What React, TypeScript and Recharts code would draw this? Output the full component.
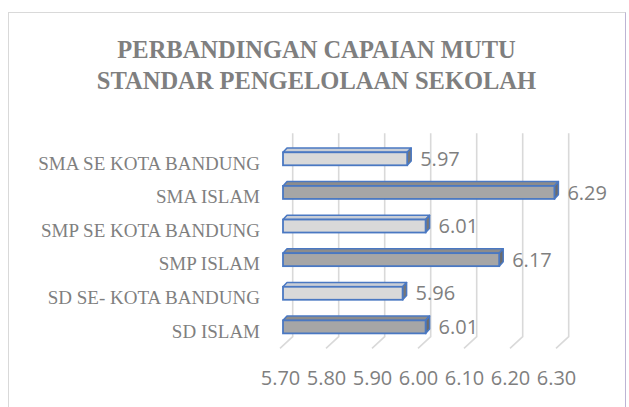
import React from "react";
import {
  BarChart,
  Bar,
  XAxis,
  YAxis,
  CartesianGrid,
  Cell,
  LabelList,
} from "recharts";

const categories = [
  "SMA SE KOTA BANDUNG",
  "SMA ISLAM",
  "SMP SE KOTA BANDUNG",
  "SMP ISLAM",
  "SD SE- KOTA BANDUNG",
  "SD ISLAM",
];
const values = [5.97, 6.29, 6.01, 6.17, 5.96, 6.01];
const xTicks = [5.7, 5.8, 5.9, 6.0, 6.1, 6.2, 6.3];
const titleLines = [
  "PERBANDINGAN CAPAIAN MUTU",
  "STANDAR PENGELOLAAN SEKOLAH",
];

const data = categories.map((name, i) => ({ name, value: values[i] }));

const TEXT = "#7f7f7f";
const BLUE = "#4a78c2";
const DX = 4;
const DY = 4.3;

// 3d-ish bar: front face + top bevel + right side
function Bar3D(props: any) {
  const { x, y, width, height, fill, index } = props;
  const dark = index % 2 === 1;
  const top = dark ? "#8c8c8c" : "#c9ced6";
  const side = dark ? "#6b6b6b" : "#767676";
  return (
    <g>
      <polygon
        points={`${x},${y} ${x + DX},${y - DY} ${x + width + DX},${y - DY} ${x + width},${y}`}
        fill={top}
        stroke={BLUE}
        strokeWidth={1.5}
        strokeLinejoin="round"
      />
      <polygon
        points={`${x + width},${y} ${x + width + DX},${y - DY} ${x + width + DX},${y + height - DY} ${x + width},${y + height}`}
        fill={side}
        stroke={BLUE}
        strokeWidth={1.5}
        strokeLinejoin="round"
      />
      <rect
        x={x}
        y={y}
        width={width}
        height={height}
        fill={fill}
        stroke={BLUE}
        strokeWidth={1.8}
      />
    </g>
  );
}

function GridLine3D(props: any) {
  const { x1, y1, y2, index } = props;
  const d = `M${x1 + 9.7},${y1 - 9} L${x1 + 9.7},${y2 - 7.3} L${x1 - 3},${y2 + 4.3}`;
  return (
    <path
      key={`g-${index}-${x1}`}
      d={d}
      fill="none"
      stroke="#d9d9d9"
      strokeWidth={1.6}
    />
  );
}

function CatTick(props: any) {
  const { x, y, payload } = props;
  return (
    <text
      x={x}
      y={y}
      dy={10.5}
      textAnchor="end"
      fill={TEXT}
      fontFamily="'Liberation Serif', serif"
      fontSize={19}
    >
      {payload.value}
    </text>
  );
}

function NumTick(props: any) {
  const { x, y, payload } = props;
  return (
    <text
      x={x - 2.5}
      y={y}
      dy={40.5}
      textAnchor="middle"
      fill={TEXT}
      fontFamily="'Open Sans', sans-serif"
      fontSize={20}
    >
      {Number(payload.value).toFixed(2)}
    </text>
  );
}

export default function App() {
  return (
    <div
      style={{
        position: "absolute",
        left: 0,
        top: 0,
        width: 629,
        height: 407,
        background: "#fff",
        overflow: "hidden",
      }}
    >
      <div
        style={{
          position: "absolute",
          left: 8,
          top: 12,
          width: 618,
          height: 420,
          borderTop: "1.5px solid #d9d9d9",
          borderLeft: "1.5px solid #d9d9d9",
          borderRight: "1.5px solid #bdb4d4",
          boxSizing: "border-box",
        }}
      />
      <svg
        width={629}
        height={110}
        style={{ position: "absolute", left: 0, top: 0 }}
      >
        {titleLines.map((t, i) => (
          <text
            key={t}
            x={316.5}
            y={58.3 + i * 31}
            textAnchor="middle"
            fill={TEXT}
            fontFamily="'Liberation Serif', serif"
            fontWeight="bold"
            fontSize={24.5}
          >
            {t}
          </text>
        ))}
      </svg>
      <div style={{ position: "absolute", left: 0, top: 0 }}>
        <BarChart
          width={629}
          height={407}
          data={data}
          layout="vertical"
          margin={{ top: 142.3, right: 70, bottom: 23, left: 0 }}
          barCategoryGap={0}
        >
          <CartesianGrid
            horizontal={false}
            vertical={(p: any) => <GridLine3D {...p} />}
          />
          <XAxis
            type="number"
            domain={[5.7, 6.3]}
            ticks={xTicks}
            axisLine={false}
            tickLine={false}
            tickSize={0}
            tickMargin={0}
            height={40}
            tick={<NumTick />}
            interval={0}
          />
          <YAxis
            type="category"
            dataKey="name"
            width={283}
            axisLine={false}
            tickLine={false}
            tickSize={0}
            tickMargin={23}
            tick={<CatTick />}
            interval={0}
          />
          <Bar
            dataKey="value"
            barSize={13}
            isAnimationActive={false}
            shape={<Bar3D />}
          >
            {data.map((d, i) => (
              <Cell key={d.name} fill={i % 2 === 1 ? "#a6a6a6" : "#d9d9d9"} />
            ))}
            <LabelList
              dataKey="value"
              position="right"
              offset={13}
              fill={TEXT}
              fontFamily="'Open Sans', sans-serif"
              fontSize={20}
              formatter={(v: any) => Number(v).toFixed(2)}
            />
          </Bar>
        </BarChart>
      </div>
    </div>
  );
}
